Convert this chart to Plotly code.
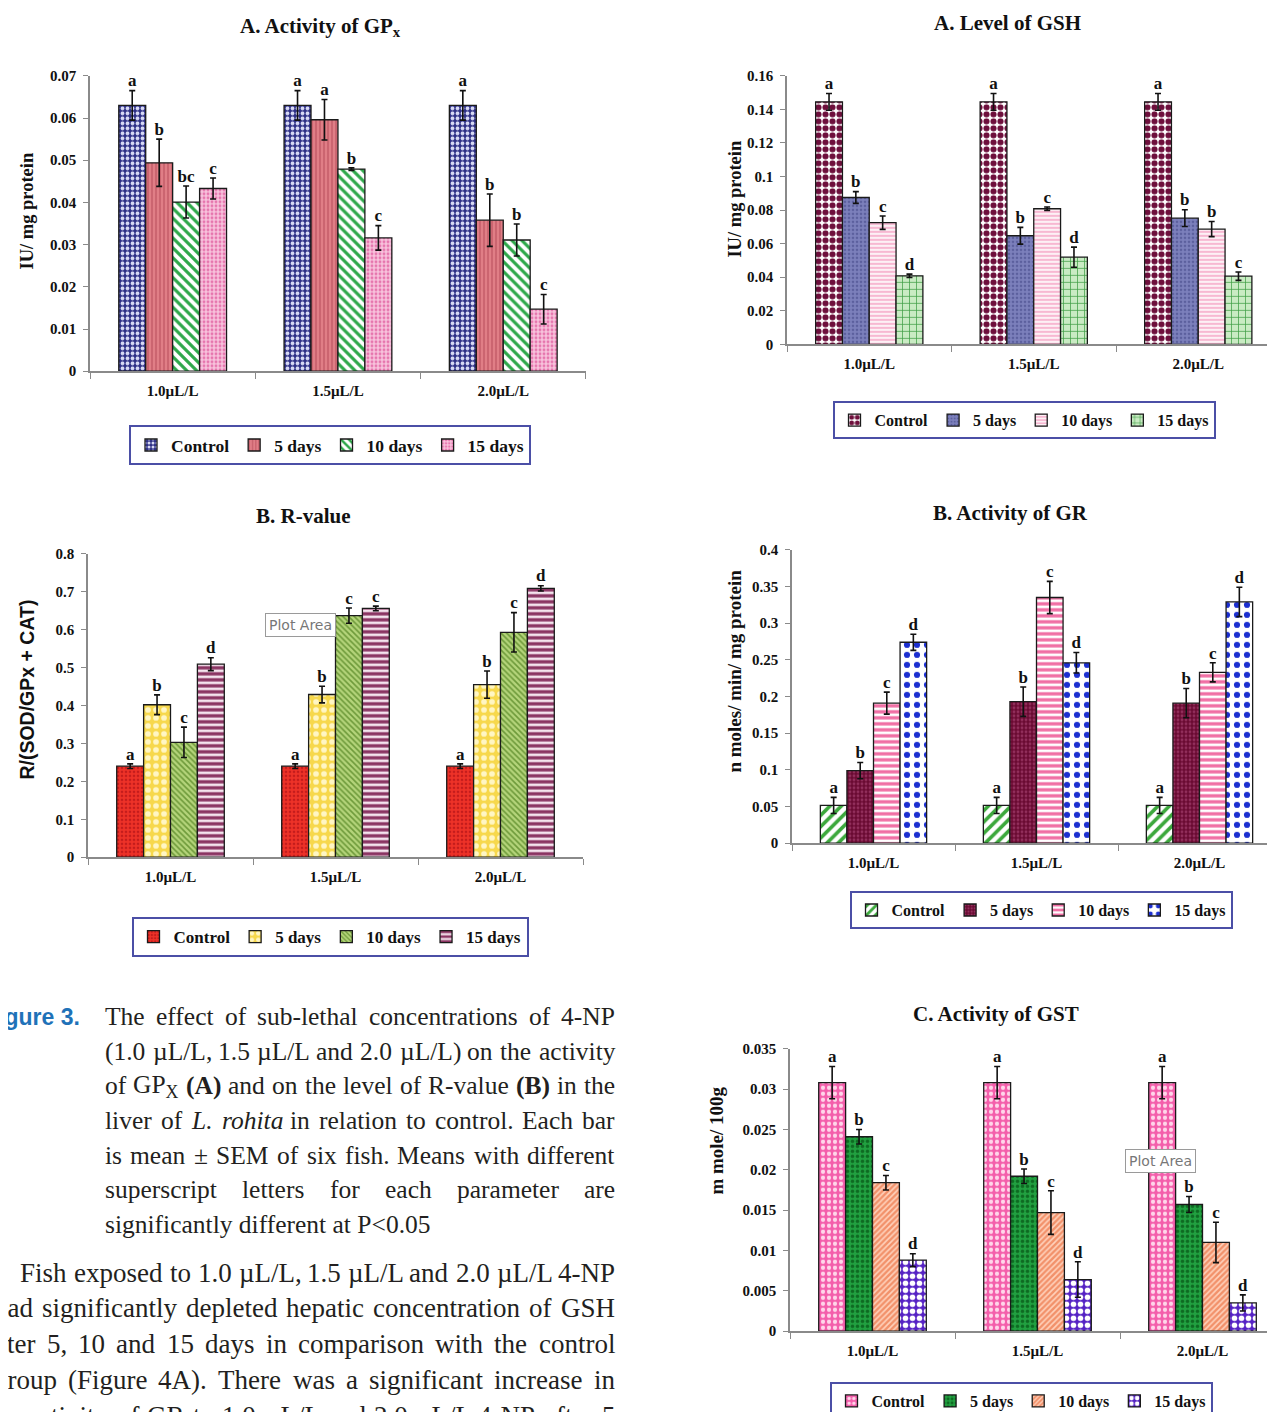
import re
import plotly.graph_objects as go

W, H = 1275, 1412

# ---------------- data ----------------
CATEGORIES = ["1.0µL/L", "1.5µL/L", "2.0µL/L"]
SERIES = ["Control", "5 days", "10 days", "15 days"]

# A. Activity of GPx (IU/ mg protein)
GPX_CONTROL = [0.063, 0.063, 0.063]
GPX_5D = [0.0494, 0.0596, 0.0358]
GPX_10D = [0.0401, 0.0479, 0.0311]
GPX_15D = [0.0433, 0.0316, 0.0147]
GPX_SEM = [[0.0035, 0.0035, 0.0035], [0.0056, 0.0048, 0.0062],
           [0.0038, 0.0003, 0.0038], [0.0025, 0.0029, 0.0035]]
GPX_LETTERS = [["a", "a", "a"], ["b", "a", "b"], ["bc", "b", "b"], ["c", "c", "c"]]

# A. Level of GSH
GSH_CONTROL = [0.1445, 0.1445, 0.1445]
GSH_5D = [0.0875, 0.0647, 0.0752]
GSH_10D = [0.0725, 0.0808, 0.0687]
GSH_15D = [0.0408, 0.0519, 0.0406]
GSH_SEM = [[0.005, 0.005, 0.005], [0.0035, 0.005, 0.005],
           [0.004, 0.001, 0.0045], [0.001, 0.006, 0.0025]]
GSH_LETTERS = [["a", "a", "a"], ["b", "b", "b"], ["c", "c", "b"], ["d", "d", "c"]]

# B. R-value
R_CONTROL = [0.24, 0.24, 0.24]
R_5D = [0.402, 0.429, 0.455]
R_10D = [0.303, 0.637, 0.593]
R_15D = [0.509, 0.656, 0.709]
R_SEM = [[0.006, 0.006, 0.006], [0.026, 0.022, 0.036],
         [0.04, 0.02, 0.052], [0.017, 0.006, 0.007]]
R_LETTERS = [["a", "a", "a"], ["b", "b", "b"], ["c", "c", "c"], ["d", "c", "d"]]

# B. Activity of GR
GR_CONTROL = [0.0515, 0.0515, 0.0515]
GR_5D = [0.099, 0.193, 0.191]
GR_10D = [0.191, 0.335, 0.233]
GR_15D = [0.274, 0.246, 0.329]
GR_SEM = [[0.011, 0.011, 0.011], [0.011, 0.02, 0.02],
          [0.015, 0.022, 0.013], [0.011, 0.014, 0.02]]
GR_LETTERS = [["a", "a", "a"], ["b", "b", "b"], ["c", "c", "c"], ["d", "d", "d"]]

# C. Activity of GST
GST_CONTROL = [0.0308, 0.0308, 0.0308]
GST_5D = [0.0241, 0.0192, 0.0157]
GST_10D = [0.0184, 0.0147, 0.011]
GST_15D = [0.0088, 0.0064, 0.0035]
GST_SEM = [[0.002, 0.002, 0.002], [0.0009, 0.0009, 0.001],
           [0.0009, 0.0027, 0.0025], [0.0008, 0.0022, 0.001]]
GST_LETTERS = [["a", "a", "a"], ["b", "b", "b"], ["c", "c", "c"], ["d", "d", "d"]]

# ---------------- styles ----------------
SERIF = "Liberation Serif"
# (bgcolor, fgcolor, shape, size, solidity)
GPX_STYLE = [("#2D2F86", "#D8DAF5", ".", 5, 0.45), ("#E07E86", "#C25A66", "|", 4, 0.35),
             ("#FFFFFF", "#2EA84A", "\\", 7, 0.45), ("#F8C2DC", "#E676AE", ".", 4, 0.4)]
GSH_STYLE = [("#FFFFFF", "#6E0F3C", ".", 7, 0.6), ("#7C80BC", "#5C609E", ".", 4, 0.35),
             ("#F7B8D2", "#FFFFFF", "-", 4, 0.4), ("#C9EBC3", "#3E9E45", "+", 7, 0.2)]
R_STYLE = [("#EE3228", "#C41C1C", ".", 4, 0.35), ("#F7D84C", "#FFF6C4", ".", 8, 0.4),
           ("#B4D47A", "#6E9A3A", "\\", 4, 0.4), ("#8A3462", "#F4E4EE", "-", 6, 0.45)]
GR_STYLE = [("#FFFFFF", "#3CA83C", "/", 8, 0.45), ("#6A0A32", "#922F5C", ".", 4, 0.4),
            ("#F06EA4", "#FFFFFF", "-", 6, 0.45), ("#FFFFFF", "#1C2FD0", ".", 10, 0.3)]
GST_STYLE = [("#F45EAB", "#FFD6EA", ".", 6, 0.4), ("#21A040", "#0E6A22", ".", 5, 0.4),
             ("#F2916A", "#FFD2BC", "/", 4, 0.4), ("#5522C4", "#FFFFFF", ".", 7, 0.5)]

BAR_W = 0.163

CHARTS = [
    dict(means=[GPX_CONTROL, GPX_5D, GPX_10D, GPX_15D], sem=GPX_SEM, letters=GPX_LETTERS,
         style=GPX_STYLE, box=(82, 578, 68, 364), catw=165.3, ymax=0.07, dtick=0.01,
         title="A. Activity of GP<sub>x</sub>", title_xy=(312, 19),
         ytitle="IU/ mg protein", ytitle_xy=(19, 203), yfont=SERIF, ysize=18.5,
         legend_xy=(322, 418), lsize=17.5),
    dict(means=[GSH_CONTROL, GSH_5D, GSH_10D, GSH_15D], sem=GSH_SEM, letters=GSH_LETTERS,
         style=GSH_STYLE, box=(779, 1275, 68, 337), catw=164.5, ymax=0.16, dtick=0.02,
         title="A. Level of GSH", title_xy=(999, 15),
         ytitle="IU/ mg protein", ytitle_xy=(727, 191), yfont=SERIF, ysize=18.5,
         legend_xy=(1016, 394), lsize=16),
    dict(means=[R_CONTROL, R_5D, R_10D, R_15D], sem=R_SEM, letters=R_LETTERS,
         style=R_STYLE, box=(80, 575, 547, 851), catw=165.0, ymax=0.8, dtick=0.1,
         title="B. R-value", title_xy=(295, 509),
         ytitle="R/(SOD/GPx + CAT)", ytitle_xy=(19, 683), yfont="Liberation Sans", ysize=19.5,
         legend_xy=(322, 911), lsize=17),
    dict(means=[GR_CONTROL, GR_5D, GR_10D, GR_15D], sem=GR_SEM, letters=GR_LETTERS,
         style=GR_STYLE, box=(784, 1275, 543, 837), catw=163.0, ymax=0.4, dtick=0.05,
         title="B. Activity of GR", title_xy=(1002, 506),
         ytitle="n moles/ min/ mg protein", ytitle_xy=(727, 665), yfont=SERIF, ysize=19,
         legend_xy=(1033, 885), lsize=16),
    dict(means=[GST_CONTROL, GST_5D, GST_10D, GST_15D], sem=GST_SEM, letters=GST_LETTERS,
         style=GST_STYLE, box=(782, 1275, 1043, 1326), catw=165.0, ymax=0.035, dtick=0.005,
         title="C. Activity of GST", title_xy=(988, 1008),
         ytitle="m mole/ 100g", ytitle_xy=(709, 1135), yfont=SERIF, ysize=19,
         legend_xy=(1013, 1377), lsize=16),
]


def fx(p):
    return p / W


def fy(p):
    return 1 - p / H


fig = go.Figure()
annotations = []
layout = {}

for ci, ch in enumerate(CHARTS, start=1):
    sfx = "" if ci == 1 else str(ci)
    xa, ya = "x" + sfx, "y" + sfx
    lg = "legend" + sfx
    x0, x1, y0, y1 = ch["box"]
    xend = -0.5 + (x1 - x0) / ch["catw"]
    xs = list(range(len(CATEGORIES)))
    for k, name in enumerate(SERIES):
        bg, fg, shape, size, sol = ch["style"][k]
        off = -2 * BAR_W + k * BAR_W
        fig.add_trace(go.Bar(
            x=xs, y=ch["means"][k], name=name, width=BAR_W, offset=off,
            xaxis=xa, yaxis=ya, legend=lg,
            marker=dict(color=bg, line=dict(color="#1a1a1a", width=1.3),
                        pattern=dict(shape=shape, fgcolor=fg, bgcolor=bg, size=size,
                                     solidity=sol, fillmode="replace")),
            error_y=dict(type="data", array=ch["sem"][k], color="#111111",
                         thickness=1.6, width=3),
        ))
        tops = [m + e for m, e in zip(ch["means"][k], ch["sem"][k])]
        fig.add_trace(go.Scatter(
            x=[x + off + BAR_W / 2 for x in xs], y=tops, text=ch["letters"][k],
            mode="text", textposition="top center", showlegend=False,
            xaxis=xa, yaxis=ya, cliponaxis=False, hoverinfo="skip",
            textfont=dict(family=SERIF, size=17, color="#111111", weight="bold"),
        ))

    layout["xaxis" + sfx] = dict(
        domain=[fx(x0), fx(x1)], range=[-0.5, xend], anchor=ya,
        tickmode="array", tickvals=xs, ticktext=CATEGORIES, ticks="",
        showline=True, linecolor="#8a8a8a", linewidth=1.5, showgrid=False, zeroline=False,
        minor=dict(tickmode="array", tickvals=[-0.5, 0.5, 1.5, 2.5], ticks="outside",
                   ticklen=6, tickcolor="#8a8a8a", tickwidth=1.2, showgrid=False),
        tickfont=dict(family=SERIF, size=15, color="#111111", weight="bold"),
        ticklabelstandoff=5, automargin=False, fixedrange=True,
    )
    layout["yaxis" + sfx] = dict(
        domain=[fy(y1), fy(y0)], range=[0, ch["ymax"]], anchor=xa,
        dtick=ch["dtick"], tick0=0, ticks="outside", ticklen=5, tickcolor="#8a8a8a",
        showline=True, linecolor="#8a8a8a", linewidth=1.5, showgrid=False, zeroline=False,
        tickfont=dict(family=SERIF, size=15, color="#111111", weight="bold"),
        ticklabelstandoff=4, automargin=False, fixedrange=True,
    )
    lx, ly = ch["legend_xy"]
    layout[lg] = dict(
        orientation="h", x=fx(lx), xanchor="center", y=fy(ly), yanchor="top",
        bgcolor="white", bordercolor="#4B4FA6", borderwidth=2,
        font=dict(family=SERIF, size=ch["lsize"], color="#111111", weight="bold"),
        itemwidth=30, tracegroupgap=0,
    )
    tx, ty = ch["title_xy"]
    annotations.append(dict(
        text="<b>" + ch["title"] + "</b>", x=fx(tx), y=fy(ty), xref="paper", yref="paper",
        xanchor="center", yanchor="middle", showarrow=False,
        font=dict(family=SERIF, size=21, color="#111111")))
    yx, yy = ch["ytitle_xy"]
    annotations.append(dict(
        text="<b>" + ch["ytitle"] + "</b>", x=fx(yx), y=fy(yy), xref="paper", yref="paper",
        xanchor="center", yanchor="middle", showarrow=False, textangle=-90,
        font=dict(family=ch["yfont"], size=ch["ysize"], color="#111111")))

# Excel "Plot Area" tooltips captured in the screenshot
for (px_, py_) in [(292, 618), (1152, 1155)]:
    annotations.append(dict(
        text="Plot Area", x=fx(px_), y=fy(py_), xref="paper", yref="paper",
        xanchor="center", yanchor="middle", showarrow=False,
        font=dict(family="DejaVu Sans", size=14, color="#777777"),
        bgcolor="white", bordercolor="#9a9a9a", borderwidth=1, borderpad=3))

# ---------------- caption & body text (justified) ----------------
CAP = dict(family=SERIF, size=25.5, color="#231F20")
BODY = dict(family=SERIF, size=27, color="#231F20")
CAP_L, CAP_R = 95, 605

# Times-compatible advance widths (per 1000 em) used to justify words
_TW = {' ': 250, 'a': 444, 'b': 500, 'c': 444, 'd': 500, 'e': 444, 'f': 333, 'g': 500,
       'h': 500, 'i': 278, 'j': 278, 'k': 500, 'l': 278, 'm': 778, 'n': 500, 'o': 500,
       'p': 500, 'q': 500, 'r': 333, 's': 389, 't': 278, 'u': 500, 'v': 500, 'w': 722,
       'x': 500, 'y': 500, 'z': 444, '.': 250, ',': 250, '(': 333, ')': 333, '/': 278,
       '-': 333, '±': 564, '<': 564, 'A': 722, 'B': 667, 'C': 667, 'E': 611, 'F': 556,
       'G': 722, 'H': 722, 'L': 611, 'M': 889, 'N': 722, 'P': 556, 'R': 667, 'S': 556,
       'T': 611, 'X': 722, 'µ': 500}


def word_width(html, size):
    total = 0.0
    for part in re.split(r"(<sub>.*?</sub>)", html):
        scale = 0.7 if part.startswith("<sub>") else 1.0
        txt = re.sub(r"<[^>]+>", "", part).replace("&lt;", "<")
        total += scale * sum(_TW.get(c, 500) for c in txt)
    return total * size / 1000.0


def text_ann(t, x, y, anchor="left", font=CAP):
    annotations.append(dict(text=t, x=fx(x), y=fy(y), xref="paper", yref="paper",
                            xanchor=anchor, yanchor="middle", showarrow=False, font=font))


def justify(line, x_left, x_right, y, font):
    words = line.split(" ")
    widths = [word_width(w, font["size"]) for w in words]
    gap = (x_right - x_left - sum(widths)) / (len(words) - 1)
    x = x_left
    for w, wd in zip(words, widths):
        text_ann(w, x, y, "left", font)
        x += wd + gap


text_ann("<b>Figure 3.</b>", 74, 1011, "right",
         dict(family="Liberation Sans", size=23, color="#1F72B8"))

CAPTION_LINES = [
    ("The effect of sub-lethal concentrations of 4-NP", 1011),
    ("(1.0 µL/L, 1.5 µL/L and 2.0 µL/L) on the activity", 1046),
    ("of GP<sub>X</sub> <b>(A)</b> and on the level of R-value <b>(B)</b> in the", 1080),
    ("liver of <i>L.</i> <i>rohita</i> in relation to control. Each bar", 1115),
    ("is mean ± SEM of six fish. Means with different", 1150),
    ("superscript letters for each parameter are", 1184),
]
for line, yy in CAPTION_LINES:
    justify(line, CAP_L, CAP_R, yy, CAP)
text_ann("significantly different at P&lt;0.05", CAP_L, 1219, "left")

# body lines; the leading letters of lines 2-5 fall off the left edge of the page
BODY_LINES = [
    ("Fish exposed to 1.0 µL/L, 1.5 µL/L and 2.0 µL/L 4-NP", "", 10, 1268),
    ("had significantly depleted hepatic concentration of GSH", "h", -3, 1303),
    ("after 5, 10 and 15 days in comparison with the control", "af", -3, 1339),
    ("group (Figure 4A). There was a significant increase in", "g", -3, 1375),
    ("the activity of GR to 1.0 µL/L and 2.0 µL/L 4-NP after 5", "th", -3, 1411),
]
for line, cut, start, yy in BODY_LINES:
    justify(line, start - word_width(cut, BODY["size"]), CAP_R, yy, BODY)

fig.update_layout(
    width=W, height=H, margin=dict(l=0, r=0, t=0, b=0),
    paper_bgcolor="white", plot_bgcolor="rgba(0,0,0,0)",
    barmode="overlay", showlegend=True, annotations=annotations, **layout,
)

fig.write_html("out.html")
